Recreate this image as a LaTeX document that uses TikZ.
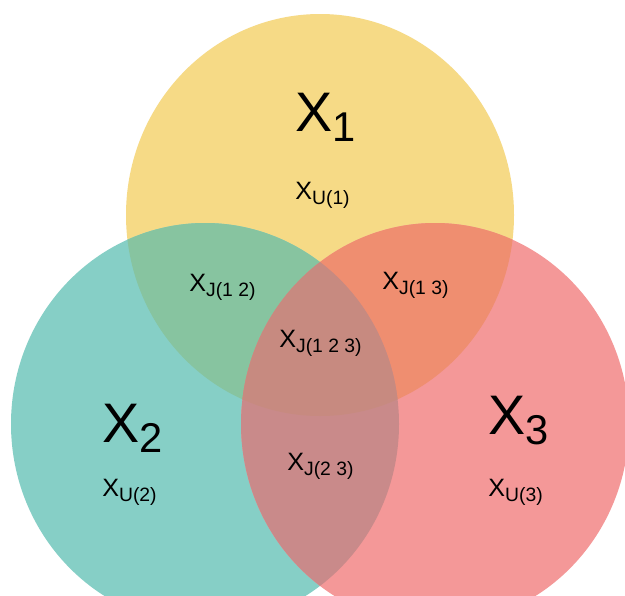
\documentclass[tikz,border=0pt]{standalone}
\usepackage{fontspec}
\setmainfont{Liberation Sans}

\definecolor{setone}{HTML}{F6DA86}
\definecolor{settwo}{HTML}{86CFC6}
\definecolor{setthree}{HTML}{F49898}
\definecolor{onetwo}{HTML}{87C4A0}
\definecolor{onethree}{HTML}{EF8E70}
\definecolor{twothree}{HTML}{C98A8A}
\definecolor{allthree}{HTML}{C78A80}

% big set name and small region label
\newcommand{\bigsetlbl}[2]{\fontsize{31.7}{32}\selectfont #1\raisebox{-5.7pt}{\fontsize{23.7}{24}\selectfont #2}}
\newcommand{\regionlbl}[2]{\fontsize{14.3}{15}\selectfont #1\raisebox{-3.4pt}{\fontsize{11}{12}\selectfont #2}}

\begin{document}
\begin{tikzpicture}[x=0.02cm,y=-0.02cm,
    lbl/.style={inner sep=0pt,anchor=base west}]
        \clip (0,0) rectangle (625,595);
        \fill[white] (0,0) rectangle (625,595);

        \coordinate (c1) at (320,215);
        \coordinate (c2) at (205,424);
        \coordinate (c3) at (435,424);

        \fill[setone] (c1) ellipse [x radius=194,y radius=201];
        \fill[settwo] (c2) ellipse [x radius=194,y radius=201];
        \fill[setthree] (c3) ellipse [x radius=194,y radius=201];

        \begin{scope}
        \clip (c1) ellipse [x radius=194,y radius=201];
        \fill[onetwo] (c2) ellipse [x radius=194,y radius=201];
        \fill[onethree] (c3) ellipse [x radius=194,y radius=201];
        \end{scope}
        \begin{scope}
        \clip (c2) ellipse [x radius=194,y radius=201];
        \fill[twothree] (c3) ellipse [x radius=194,y radius=201];
        \clip (c3) ellipse [x radius=194,y radius=201];
        \fill[allthree] (c1) ellipse [x radius=194,y radius=201];
        \end{scope}

        \node[lbl] (x1) at (295,131) {\bigsetlbl{X}{1}};
        \node[lbl] (x2) at (102,442) {\bigsetlbl{X}{2}};
        \node[lbl] (x3) at (488,434) {\bigsetlbl{X}{3}};

        \node[lbl] (u1) at (295,199) {\regionlbl{X}{U(1)}};
        \node[lbl] (u2) at (102,496) {\regionlbl{X}{U(2)}};
        \node[lbl] (u3) at (488,496) {\regionlbl{X}{U(3)}};

        \node[lbl] (j12) at (189,291) {\regionlbl{X}{J(1 2)}};
        \node[lbl] (j13) at (382,289) {\regionlbl{X}{J(1 3)}};
        \node[lbl] (j23) at (287,470) {\regionlbl{X}{J(2 3)}};
        \node[lbl] (j123) at (279,347) {\regionlbl{X}{J(1 2 3)}};

        \end{tikzpicture}
\end{document}
